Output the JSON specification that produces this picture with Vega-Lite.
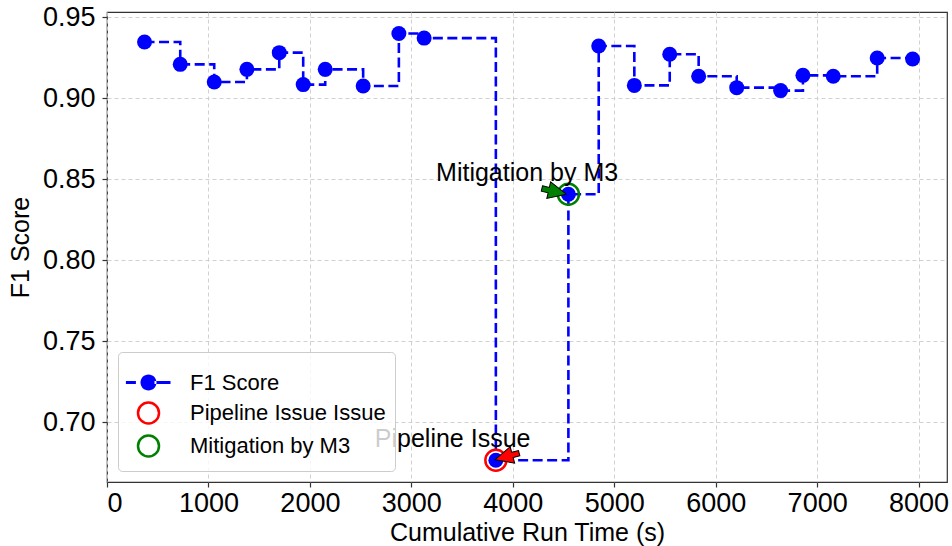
{
  "$schema": "https://vega.github.io/schema/vega-lite/v6.json",
  "width": 840,
  "height": 470,
  "autosize": {"type": "none"},
  "padding": {"left": 107, "top": 12, "right": 5, "bottom": 64},
  "config": {
    "view": {"stroke": "#333333", "strokeWidth": 1.2},
    "font": "Liberation Sans",
    "axis": {
      "grid": true, "gridColor": "#cccccc", "gridDash": [4, 3], "gridWidth": 0.9,
      "domain": false, "tickColor": "#333333", "tickSize": 5, "tickWidth": 1.2,
      "labelFontSize": 27, "labelColor": "black", "labelFont": "Liberation Sans",
      "titleFontSize": 25, "titleFontWeight": "normal", "titleColor": "black", "titleFont": "Liberation Sans"
    },
    "legend": {
      "title": null, "orient": "bottom-left", "offset": 11,
      "symbolStrokeWidth": 2.5, "symbolOpacity": 1, "padding": 9, "rowPadding": 1,
      "labelOffset": 20, "labelFontSize": 22, "labelLimit": 500, "labelColor": "black", "labelFont": "Liberation Sans",
      "fillColor": "rgba(255,255,255,0.8)", "strokeColor": "#cccccc", "cornerRadius": 4
    }
  },
  "datasets": {
    "f1": [
      {"t": 370, "f1": 0.9346}, {"t": 722, "f1": 0.9208}, {"t": 1057, "f1": 0.9099},
      {"t": 1379, "f1": 0.9177}, {"t": 1698, "f1": 0.9280}, {"t": 1934, "f1": 0.9083},
      {"t": 2151, "f1": 0.9177}, {"t": 2525, "f1": 0.9074}, {"t": 2877, "f1": 0.9398},
      {"t": 3126, "f1": 0.9370}, {"t": 3833, "f1": 0.6764}, {"t": 4548, "f1": 0.8406},
      {"t": 4847, "f1": 0.9321}, {"t": 5198, "f1": 0.9078}, {"t": 5547, "f1": 0.9270},
      {"t": 5832, "f1": 0.9134}, {"t": 6207, "f1": 0.9064}, {"t": 6640, "f1": 0.9046},
      {"t": 6860, "f1": 0.9140}, {"t": 7159, "f1": 0.9134}, {"t": 7592, "f1": 0.9247},
      {"t": 7941, "f1": 0.9241}
    ],
    "legendItems": [
      {"series": "F1 Score", "t": 370, "f1": 0.9346},
      {"series": "Pipeline Issue Issue", "t": 3833, "f1": 0.6764},
      {"series": "Mitigation by M3", "t": 4548, "f1": 0.8406}
    ],
    "issue": [{"t": 3833, "f1": 0.6764}],
    "mitig": [{"t": 4548, "f1": 0.8406}],
    "issueArrow": [{"t": 3944, "f1": 0.6788}],
    "mitigArrow": [{"t": 4407, "f1": 0.8424}],
    "labels": [
      {"t": 3407, "f1": 0.6846, "label": "Pipeline Issue"},
      {"t": 4141, "f1": 0.8488, "label": "Mitigation by M3"}
    ]
  },
  "layer": [
    {
      "data": {"name": "f1"},
      "mark": {"type": "line", "interpolate": "step-after", "color": "#0000ff", "strokeWidth": 2.6, "strokeDash": [10, 4.5]},
      "encoding": {
        "x": {"field": "t", "type": "quantitative", "title": "Cumulative Run Time (s)",
              "scale": {"domain": [0, 8280], "nice": false, "zero": false},
              "axis": {"values": [0, 1000, 2000, 3000, 4000, 5000, 6000, 7000, 8000], "format": "d", "labelPadding": 3, "titlePadding": 4}},
        "y": {"field": "f1", "type": "quantitative", "title": "F1 Score",
              "scale": {"domain": [0.663, 0.9531], "nice": false, "zero": false},
              "axis": {"values": [0.70, 0.75, 0.80, 0.85, 0.90, 0.95], "format": ".2f", "labelPadding": 7, "titlePadding": 9}}
      }
    },
    {
      "data": {"name": "f1"},
      "mark": {"type": "point", "filled": true, "shape": "circle", "size": 225, "opacity": 1, "color": "#0000ff"},
      "encoding": {
        "x": {"field": "t", "type": "quantitative"},
        "y": {"field": "f1", "type": "quantitative"}
      }
    },
    {
      "data": {"name": "issue"},
      "mark": {"type": "point", "filled": false, "shape": "circle", "size": 441, "strokeWidth": 2.5, "opacity": 1, "color": "#ff0000"},
      "encoding": {
        "x": {"field": "t", "type": "quantitative"},
        "y": {"field": "f1", "type": "quantitative"}
      }
    },
    {
      "data": {"name": "mitig"},
      "mark": {"type": "point", "filled": false, "shape": "circle", "size": 441, "strokeWidth": 2.5, "opacity": 1, "color": "#008000"},
      "encoding": {
        "x": {"field": "t", "type": "quantitative"},
        "y": {"field": "f1", "type": "quantitative"}
      }
    },
    {
      "data": {"name": "issueArrow"},
      "mark": {"type": "point", "filled": true, "shape": "M-1,-0.22L-0.44,-0.22L-0.44,-0.68L1,0L-0.44,0.68L-0.44,0.22L-1,0.22Z", "size": 625, "angle": 165, "fill": "#ff0000", "stroke": "black", "strokeWidth": 1, "opacity": 1},
      "encoding": {
        "x": {"field": "t", "type": "quantitative"},
        "y": {"field": "f1", "type": "quantitative"}
      }
    },
    {
      "data": {"name": "mitigArrow"},
      "mark": {"type": "point", "filled": true, "shape": "M-1,-0.22L-0.44,-0.22L-0.44,-0.68L1,0L-0.44,0.68L-0.44,0.22L-1,0.22Z", "size": 625, "angle": 13, "fill": "#008000", "stroke": "black", "strokeWidth": 1, "opacity": 1},
      "encoding": {
        "x": {"field": "t", "type": "quantitative"},
        "y": {"field": "f1", "type": "quantitative"}
      }
    },
    {
      "data": {"name": "labels"},
      "mark": {"type": "text", "fontSize": 25, "align": "center", "baseline": "alphabetic", "color": "black", "font": "Liberation Sans"},
      "encoding": {
        "x": {"field": "t", "type": "quantitative"},
        "y": {"field": "f1", "type": "quantitative"},
        "text": {"field": "label"}
      }
    },
    {
      "data": {"name": "legendItems"},
      "mark": {"type": "point", "opacity": 0, "strokeWidth": 2.5},
      "encoding": {
        "x": {"field": "t", "type": "quantitative"},
        "y": {"field": "f1", "type": "quantitative"},
        "fill": {"field": "series", "type": "nominal",
                 "scale": {"domain": ["F1 Score", "Pipeline Issue Issue", "Mitigation by M3"], "range": ["#0000ff", "transparent", "transparent"]}},
        "stroke": {"field": "series", "type": "nominal",
                   "scale": {"domain": ["F1 Score", "Pipeline Issue Issue", "Mitigation by M3"], "range": ["transparent", "#ff0000", "#008000"]}},
        "shape": {"field": "series", "type": "nominal",
                  "scale": {"domain": ["F1 Score", "Pipeline Issue Issue", "Mitigation by M3"], "range": ["M-1.13,-0.075L-0.63,-0.075L-0.63,0.075L-1.13,0.075Z M0.3,-0.075L1.1,-0.075L1.1,0.075L0.3,0.075Z M-0.4,0A0.4,0.4 0 1,0 0.4,0A0.4,0.4 0 1,0 -0.4,0Z", "circle", "circle"]}},
        "size": {"field": "series", "type": "nominal",
                 "scale": {"type": "ordinal", "domain": ["F1 Score", "Pipeline Issue Issue", "Mitigation by M3"], "range": [1600, 441, 441]}}
      }
    }
  ]
}
